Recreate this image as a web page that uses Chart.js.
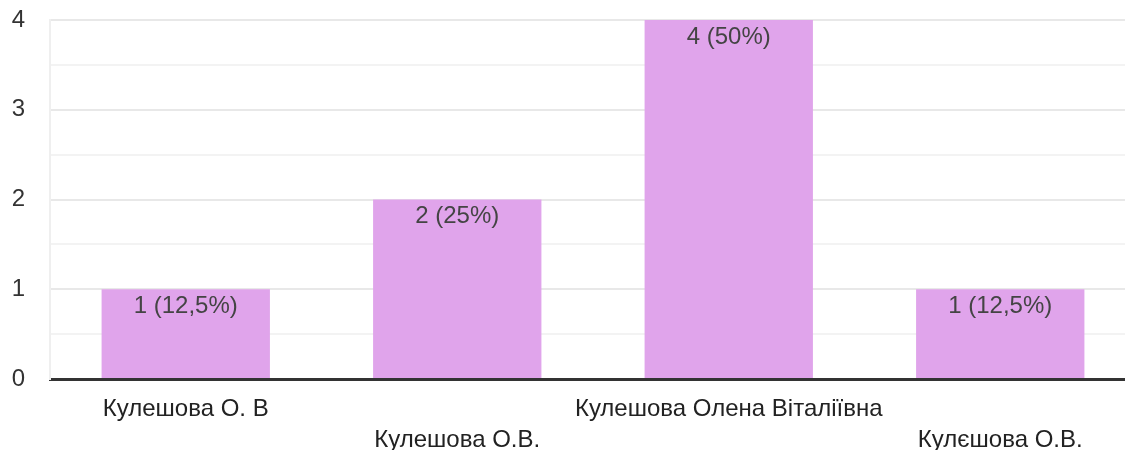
<!DOCTYPE html>
<html>
<head>
<meta charset="utf-8">
<script src="https://cdn.jsdelivr.net/npm/chart.js@4"></script>
<style>
  html, body { margin: 0; padding: 0; background: #fff; overflow: hidden; }
  #wrap { position: relative; width: 1136px; height: 450px; }
</style>
</head>
<body>
<div id="wrap"><canvas id="chart"></canvas></div>
<script>
const categories = ['Кулешова О. В', 'Кулешова О.В.', 'Кулешова Олена Віталіївна', 'Кулєшова О.В.'];
const counts = [1, 2, 4, 1];
const percentLabels = ['12,5%', '25%', '50%', '12,5%'];
const yTicks = [0, 1, 2, 3, 4];

const FONT = '"Liberation Sans", Arial, sans-serif';

// підписи всередині стовпців
const barLabels = {
    id: 'barLabels',
    afterDatasetsDraw(chart) {
        const ctx = chart.ctx;
        const meta = chart.getDatasetMeta(0);
        ctx.save();
        ctx.font = '24px ' + FONT;
        ctx.fillStyle = '#444';
        ctx.textAlign = 'center';
        ctx.textBaseline = 'middle';
        meta.data.forEach((bar, i) => {
            ctx.fillText(counts[i] + ' (' + percentLabels[i] + ')', bar.x, bar.y + 17);
        });
        ctx.restore();
    }
};

new Chart(document.getElementById('chart'), {
    type: 'bar',
    data: {
        labels: categories,
        datasets: [{
            data: counts,
            backgroundColor: '#e0a4eb',
            barPercentage: 0.62,
            categoryPercentage: 1
        }]
    },
    options: {
        responsive: true,
        maintainAspectRatio: false,
        animation: false,
        layout: { padding: 0 },
        plugins: { legend: { display: false }, tooltip: { enabled: false } },
        scales: {
            x: {
                grid: { display: false, drawTicks: false },
                border: { color: '#333', width: 3 },
                ticks: {
                    color: '#222',
                    padding: 15,
                    maxRotation: 0,
                    autoSkip: false,
                    font: { family: FONT, size: 24, lineHeight: 1.3 },
                    callback: (v, i) => i % 2 ? ['', categories[i]] : categories[i]
                },
                afterFit: s => { s.height = 71; s.paddingLeft = 0; s.paddingRight = 0; }
            },
            y: {
                min: 0,
                max: 4,
                grid: {
                    drawTicks: false,
                    color: ctx => Number.isInteger(ctx.tick.value) ? '#e8e8e8' : '#f3f3f3',
                    lineWidth: 2
                },
                border: { color: '#efefef', width: 2 },
                ticks: {
                    stepSize: 0.5,
                    padding: 25,
                    color: '#333',
                    font: { family: FONT, size: 24 },
                    callback: v => yTicks.includes(v) ? String(v) : ''
                },
                afterFit: s => { s.width = 50; s.paddingTop = 20; s.paddingBottom = 0; }
            }
        }
    },
    plugins: [barLabels]
});
</script>
</body>
</html>
